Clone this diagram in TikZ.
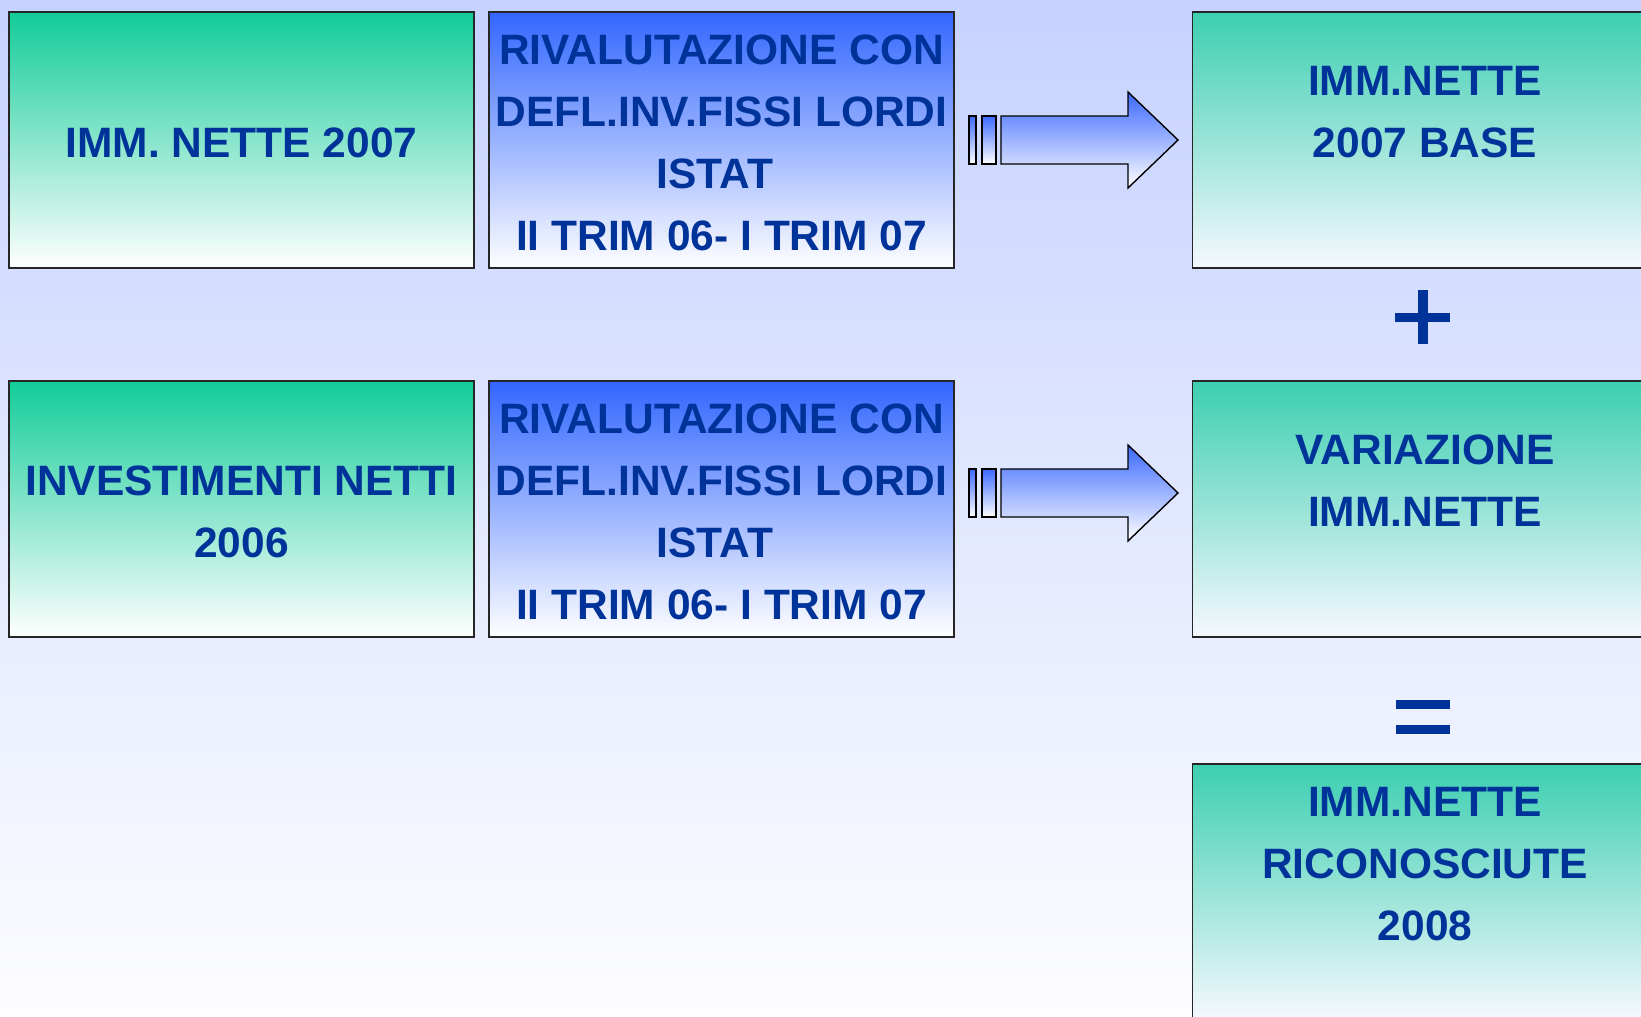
\documentclass[tikz,border=0pt]{standalone}
\usepackage{fontspec}
\setmainfont{Liberation Sans}
\definecolor{bgtop}{RGB}{198,210,255}
\definecolor{bgbot}{RGB}{253,253,255}
\definecolor{greentop}{RGB}{18,204,152}
\definecolor{righttop}{RGB}{60,207,176}
\definecolor{rightbot}{RGB}{246,248,255}
\definecolor{bluetop}{RGB}{51,102,255}
\definecolor{arrowtop}{RGB}{60,105,255}
\definecolor{txt}{RGB}{0,51,153}
\newcommand{\ls}{\rule[-14pt]{0pt}{62pt}}
\begin{document}
\begin{tikzpicture}[x=1pt,y=-1pt,
  box/.style={rectangle, draw=black!85, line width=1.8pt, inner sep=0pt,
    minimum width=465pt, minimum height=256pt, align=center,
    text=txt, font=\fontsize{42.5}{62}\selectfont\bfseries},
  greenbox/.style={box, top color=greentop, bottom color=white},
  bluebox/.style={box, top color=bluetop, bottom color=white},
  rightbox/.style={box, top color=righttop, bottom color=rightbot},
  blockarrow/.style={draw=black, line width=1.4pt, line join=miter,
    top color=arrowtop, bottom color=white},
  sign/.style={fill=txt, draw=none}
]
\useasboundingbox (0,0) rectangle (1641,1017);
\clip (0,0) rectangle (1641,1017);
\shade[top color=bgtop, bottom color=bgbot] (0,0) rectangle (1641,1017);

% row 1
\node[greenbox] (a1) at (241.5,140) {\ls IMM. NETTE 2007};
\node[bluebox] (b1) at (721.5,140) {\ls RIVALUTAZIONE CON\\\ls DEFL.INV.FISSI LORDI\\\ls ISTAT\rule{13pt}{0pt}\\\ls II TRIM 06- I TRIM 07};
\node[rightbox] (c1) at (1425,140) {\ls IMM.NETTE\\\ls 2007 BASE\\\ls};

% row 2
\node[greenbox] (a2) at (241.5,509) {\ls INVESTIMENTI NETTI\\\ls 2006};
\node[bluebox] (b2) at (721.5,509) {\ls RIVALUTAZIONE CON\\\ls DEFL.INV.FISSI LORDI\\\ls ISTAT\rule{13pt}{0pt}\\\ls II TRIM 06- I TRIM 07};
\node[rightbox] (c2) at (1425,509) {\ls VARIAZIONE\\\ls IMM.NETTE\\\ls};

% result
\node[rightbox] (c3) at (1425,892) {\ls IMM.NETTE\\\ls RICONOSCIUTE\\\ls 2008\\\ls};

% block arrows
\foreach \yc in {140,493} {
  \begin{scope}[yshift=-\yc pt]
    \path[blockarrow] (969,-24) rectangle (976,24);
    \path[blockarrow] (982,-24) rectangle (996,24);
    \path[blockarrow] (1001,-24) -- (1128,-24) -- (1128,-48) -- (1178,0)
      -- (1128,48) -- (1128,24) -- (1001,24) -- cycle;
  \end{scope}
}

% plus sign
\fill[sign] (1395,312.5) rectangle (1450,322);
\fill[sign] (1418,290) rectangle (1428,344);

% equals sign
\fill[sign] (1396,700) rectangle (1450,709);
\fill[sign] (1396,725) rectangle (1450,734);
\end{tikzpicture}
\end{document}
